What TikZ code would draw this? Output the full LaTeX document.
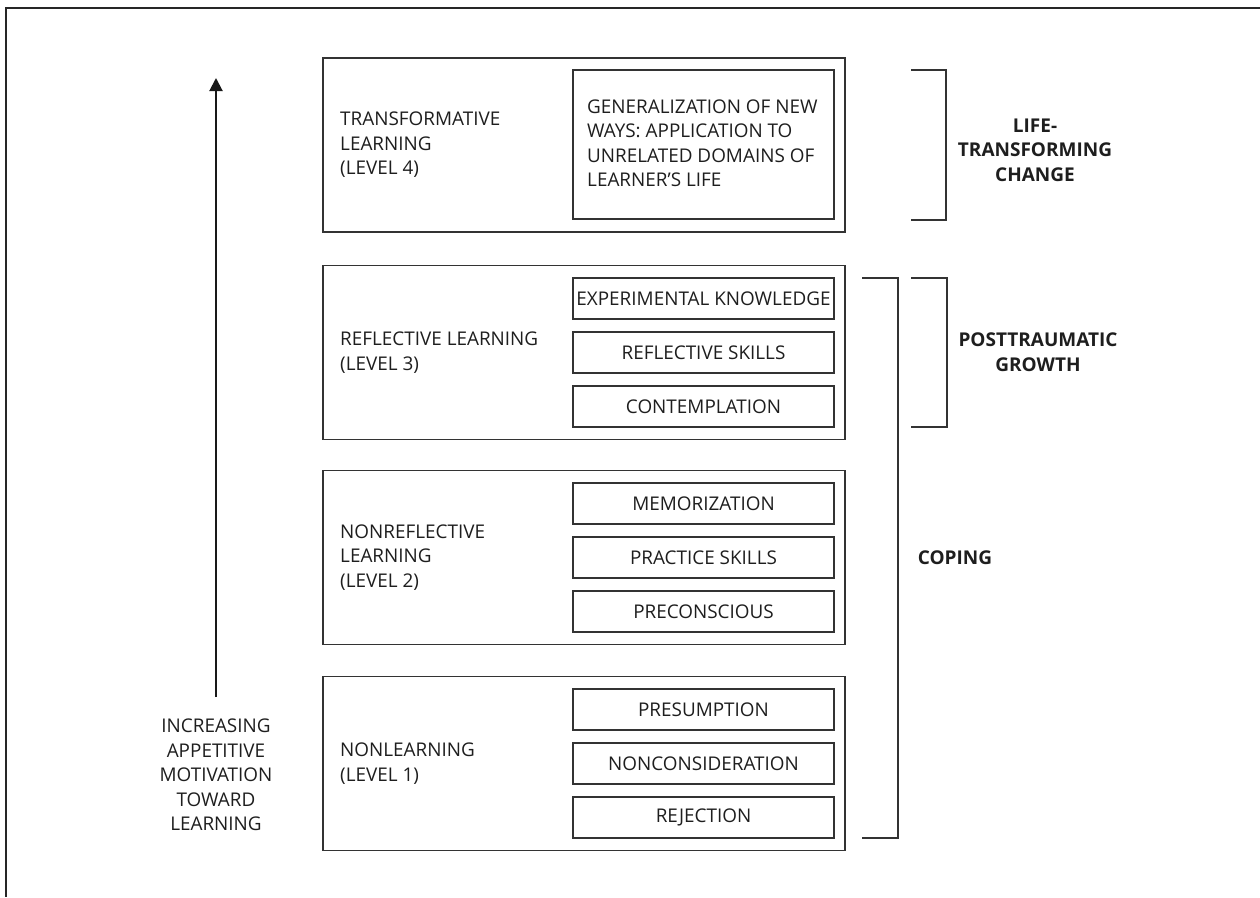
\documentclass[tikz,border=0pt]{standalone}
\usepackage{fontspec}
\setmainfont{Open Sans}
\usetikzlibrary{arrows.meta}
\definecolor{ink}{HTML}{1E1E1E}
\definecolor{rule}{HTML}{333333}
\begin{document}
\begin{tikzpicture}[x=1pt,y=-1pt,
  every node/.style={font=\fontsize{18.9}{24.5}\selectfont, text=ink, inner sep=0pt},
  levelbox/.style={draw=rule, line width=1.1pt, minimum width=522pt, minimum height=174pt},
  subbox/.style={draw=rule, line width=1.1pt, minimum width=261pt, minimum height=41pt},
  levellabel/.style={anchor=west, align=left},
  bracket/.style={draw=rule, line width=1.1pt},
  tag/.style={align=center, font=\fontsize{19}{24.5}\selectfont\bfseries}]
\useasboundingbox (0,0) rectangle (1260,897);

% outer frame (open at right and bottom)
\draw[line width=1.6pt, black!85] (1260,8) -- (6,8) -- (6,897);

% level boxes
\node[levelbox] (L4) at (584,145) {};
\node[levelbox] (L3) at (584,352.5) {};
\node[levelbox] (L2) at (584,557.5) {};
\node[levelbox] (L1) at (584,763.5) {};

% level titles
\node[levellabel] (t4) at (340,145) {TRANSFORMATIVE\\LEARNING\\(LEVEL 4)};
\node[levellabel] (t3) at (340,352.5) {REFLECTIVE LEARNING\\(LEVEL 3)};
\node[levellabel] (t2) at (340,557.5) {NONREFLECTIVE\\LEARNING\\(LEVEL 2)};
\node[levellabel] (t1) at (340,763.5) {NONLEARNING\\(LEVEL 1)};

% level 4 content
\node[draw=rule, line width=1.1pt, minimum width=261pt, minimum height=149pt] (g4) at (703.5,144.5) {};
\node[anchor=west, align=left] (g4t) at (587,143) {GENERALIZATION OF NEW\\WAYS: APPLICATION TO\\UNRELATED DOMAINS OF\\LEARNER'S LIFE};

% level 3 content
\node[subbox] (s31) at (703.5,298.5) {EXPERIMENTAL KNOWLEDGE};
\node[subbox] (s32) at (703.5,352.5) {REFLECTIVE SKILLS};
\node[subbox] (s33) at (703.5,406.5) {CONTEMPLATION};

% level 2 content
\node[subbox] (s21) at (703.5,503.5) {MEMORIZATION};
\node[subbox] (s22) at (703.5,557.5) {PRACTICE SKILLS};
\node[subbox] (s23) at (703.5,611.5) {PRECONSCIOUS};

% level 1 content
\node[subbox] (s11) at (703.5,709.5) {PRESUMPTION};
\node[subbox] (s12) at (703.5,763.5) {NONCONSIDERATION};
\node[subbox] (s13) at (703.5,817.5) {REJECTION};

% motivation axis
\node[align=center] (cap) at (216,775) {INCREASING\\APPETITIVE\\MOTIVATION\\TOWARD\\LEARNING};
\coordinate (foot) at (216,697);
\coordinate (tip) at (216,78);
\draw[line width=2pt, black!90, -{Triangle[length=13pt,width=13pt]}] (foot) -- (tip);

% brackets
\draw[bracket] (862,278) -- (898,278) -- (898,838) -- (862,838);
\node[tag] (coping) at (955,558) {COPING};

\draw[bracket] (911,278) -- (947,278) -- (947,427) -- (911,427);
\node[tag] (ptg) at (1038,352) {POSTTRAUMATIC\\GROWTH};

\draw[bracket] (911,70) -- (946,70) -- (946,220) -- (911,220);
\node[tag] (ltc) at (1035,150) {LIFE-\\TRANSFORMING\\CHANGE};
\end{tikzpicture}
\end{document}
